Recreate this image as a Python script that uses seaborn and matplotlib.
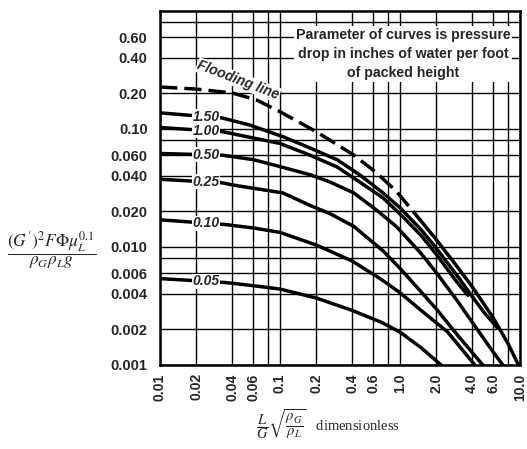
import numpy as np
import pandas as pd
import matplotlib
matplotlib.use("Agg")
import matplotlib.pyplot as plt
import seaborn as sns

# ---------------- data ----------------
flood_x = [0.01, 0.02, 0.04, 0.064, 0.1, 0.2, 0.41, 0.64, 0.94, 1.47, 2.0, 3.0, 4.0, 6.0, 8.0, 9.7]
flood_y = [0.227, 0.218, 0.202, 0.176, 0.14, 0.095, 0.0604, 0.0424, 0.0294, 0.0170, 0.0116, 0.0068, 0.0046, 0.0025, 0.0015, 0.001]

p150_x = [0.01, 0.033, 0.056, 0.106, 0.178, 0.3, 0.46, 0.72, 1.0, 1.5, 2.0, 3.0, 4.0, 5.0, 6.47]
p150_y = [0.137, 0.124, 0.108, 0.086, 0.069, 0.0548, 0.041, 0.0288, 0.0215, 0.0140, 0.0098, 0.0057, 0.0038, 0.0028, 0.00207]

p100_x = [0.01, 0.033, 0.1, 0.178, 0.3, 0.46, 0.72, 1.06, 1.5, 2.0, 3.0, 3.68]
p100_y = [0.103, 0.095, 0.0754, 0.060, 0.0476, 0.0356, 0.0261, 0.018, 0.0125, 0.0087, 0.0050, 0.0039]

p050_x = [0.01, 0.033, 0.06, 0.1, 0.178, 0.26, 0.41, 0.64, 0.94, 1.5, 2.0, 3.0, 4.0, 6.0, 7.2]
p050_y = [0.062, 0.060, 0.055, 0.048, 0.041, 0.0356, 0.0288, 0.0205, 0.0148, 0.0088, 0.0061, 0.0035, 0.0023, 0.00128, 0.001]

p025_x = [0.01, 0.033, 0.04, 0.106, 0.178, 0.26, 0.41, 0.72, 1.0, 2.0, 3.0, 4.9]
p025_y = [0.0375, 0.035, 0.0336, 0.0287, 0.0225, 0.0192, 0.0150, 0.0093, 0.0066, 0.0030, 0.0018, 0.001]

p010_x = [0.01, 0.035, 0.06, 0.1, 0.2, 0.4, 0.7, 1.0, 1.5, 2.5, 4.2]
p010_y = [0.0170, 0.0155, 0.0145, 0.0133, 0.0104, 0.0076, 0.0053, 0.0041, 0.0029, 0.0019, 0.001]

p005_x = [0.01, 0.035, 0.06, 0.1, 0.2, 0.4, 0.7, 1.0, 1.5, 2.2]
p005_y = [0.0054, 0.0050, 0.0047, 0.0044, 0.0037, 0.0029, 0.0023, 0.0019, 0.0014, 0.001]

curve_labels = ["1.50", "1.00", "0.50", "0.25", "0.10", "0.05"]

x_ticks = [0.01, 0.02, 0.04, 0.06, 0.1, 0.2, 0.4, 0.6, 1.0, 2.0, 4.0, 6.0, 10.0]
x_tick_labels = ["0.01", "0.02", "0.04", "0.06", "0.1", "0.2", "0.4", "0.6", "1.0", "2.0", "4.0", "6.0", "10.0"]
x_minor = [0.08, 0.8, 8.0]
y_ticks = [0.001, 0.002, 0.004, 0.006, 0.01, 0.02, 0.04, 0.06, 0.1, 0.2, 0.4, 0.6]
y_tick_labels = ["0.001", "0.002", "0.004", "0.006", "0.010", "0.020", "0.040", "0.060", "0.10", "0.20", "0.40", "0.60"]
y_minor = [0.008, 0.08, 0.8]

note_text = "Parameter of curves is pressure\ndrop in inches of water per foot\nof packed height"

# ---------------- plotting ----------------
sns.set_style("white")
plt.rcParams["font.family"] = ["Liberation Sans", "DejaVu Sans"]
plt.rcParams["mathtext.fontset"] = "stix"

fig = plt.figure(figsize=(5.27, 4.49), dpi=100)
ax = fig.add_axes([160 / 527, 1 - 365 / 449, 360 / 527, 354 / 449])
ax.set_xscale("log")
ax.set_yscale("log")

LW = 2.5
pcurves = [(p150_x, p150_y), (p100_x, p100_y), (p050_x, p050_y),
           (p025_x, p025_y), (p010_x, p010_y), (p005_x, p005_y)]
for (xs, ys) in pcurves:
    sns.lineplot(x=xs, y=ys, ax=ax, color="black", lw=LW, estimator=None,
                 sort=False, zorder=3)

# flooding line: dashed until it merges with the bundle, solid afterwards
k = 10
sns.lineplot(x=flood_x[:k], y=flood_y[:k], ax=ax, color="black", lw=LW,
             estimator=None, sort=False, zorder=3, linestyle=(0, (5, 2)))
sns.lineplot(x=flood_x[k - 1:], y=flood_y[k - 1:], ax=ax, color="black", lw=LW,
             estimator=None, sort=False, zorder=3)

ax.set_xlim(0.01, 10)
ax.set_ylim(0.001, 1.0)

ax.set_xticks(x_ticks)
ax.set_xticklabels(x_tick_labels, rotation=90, fontweight="bold", fontsize=10)
ax.set_xticks(x_minor, minor=True)
ax.set_yticks(y_ticks)
ax.set_yticklabels(y_tick_labels, fontweight="bold", fontsize=10.5)
ax.set_yticks(y_minor, minor=True)
ax.tick_params(which="both", length=0)
ax.tick_params(axis="y", pad=9)
ax.tick_params(axis="x", pad=6)
ax.set_xticklabels([], minor=True)
ax.set_yticklabels([], minor=True)
ax.grid(True, which="both", color="black", lw=1.0, zorder=1)
ax.set_axisbelow(True)
for s in ax.spines.values():
    s.set_color("black")
    s.set_linewidth(1.8)
ax.set_xlabel("")
ax.set_ylabel("")

# inline curve labels
lab_x = 0.0242
for lab, (xs, ys) in zip(curve_labels, pcurves):
    ly = 10 ** np.interp(np.log10(lab_x), np.log10(xs), np.log10(ys))
    ax.text(lab_x, ly, lab, ha="center", va="center", fontsize=10,
            fontweight="bold", style="italic", zorder=5,
            bbox=dict(fc="white", ec="none", pad=0.4))

ax.text(0.0447, 0.26, "Flooding line", rotation=-21, rotation_mode="anchor",
        ha="center", va="center", fontsize=10, fontweight="bold", style="italic",
        zorder=5, bbox=dict(fc="white", ec="none", pad=0.5))

ax.text(0.675, 0.879, note_text, transform=ax.transAxes, ha="center", va="center",
        fontsize=10.2, fontweight="bold", linespacing=1.45, zorder=5,
        bbox=dict(fc="white", ec="none", pad=1.5))

fig.text(52 / 527, 1 - 251 / 449,
         r"$\dfrac{(G^{\prime})^2F\Phi\mu_L^{0.1}}{\rho_G\rho_L g}$",
         ha="center", va="center", fontsize=12.5)
fig.text(328 / 527, 1 - 424 / 449,
         r"$\dfrac{L}{G}\sqrt{\dfrac{\rho_G}{\rho_L}}$   dimensionless",
         ha="center", va="center", fontsize=10.5, family="Liberation Serif")

fig.savefig("out.png", dpi=100, facecolor="white")
